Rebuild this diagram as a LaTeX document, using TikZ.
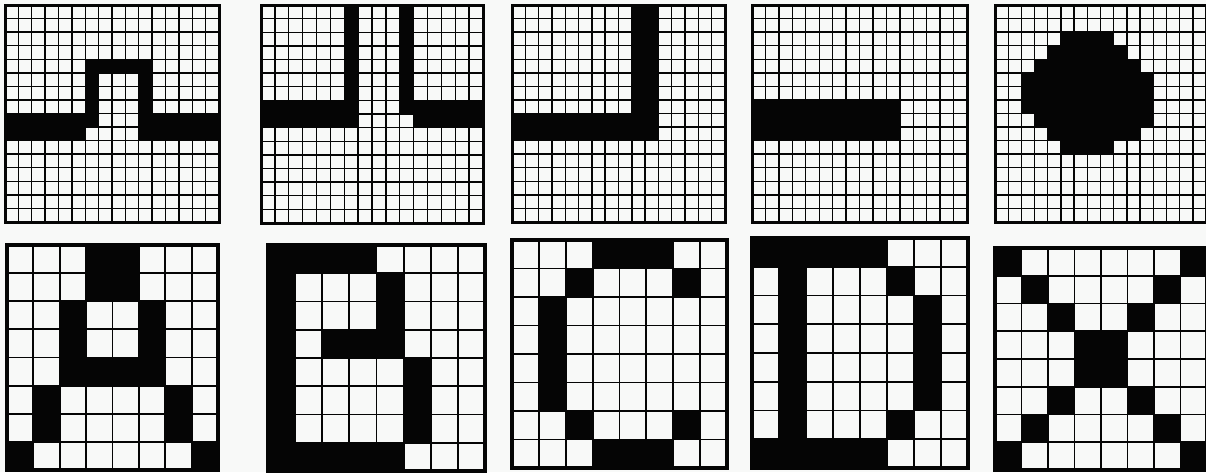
\documentclass[tikz,border=0pt]{standalone}
\definecolor{paper}{HTML}{F8F9F8}
\definecolor{ink}{HTML}{050505}
\tikzset{
  gridline/.style={draw=ink, line cap=rect},
  cellfill/.style={fill=ink},
  border/.style={draw=ink, line join=miter},
}
% #1 x0, #2 y0, #3 x1, #4 y1, #5 n, #6 black blocks r1/r2/c1/c2, #7 grid line width, #8 border width
\newcommand\pixgrid[8]{%
  \pgfmathsetmacro\gw{(#3-#1)/#5}%
  \pgfmathsetmacro\gh{(#4-#2)/#5}%
  \pgfmathtruncatemacro\gnm{#5-1}%
  \begin{scope}[shift={(#1,#2)}, x=\gw pt, y=-\gh pt]
    \foreach \kk in {1,...,\gnm} {
      \draw[gridline, line width=#7] (\kk,0) -- (\kk,#5);
      \draw[gridline, line width=#7] (0,\kk) -- (#5,\kk);
    }
    \foreach \ra/\rb/\ca/\cb in {#6} {
      \fill[cellfill] (\ca,\ra) rectangle (\cb+1,\rb+1);
    }
    \draw[border, line width=#8] (0,0) rectangle (#5,#5);
  \end{scope}}
\begin{document}
\begin{tikzpicture}[x=1pt, y=-1pt]
\useasboundingbox (0,0) rectangle (1206,472);
\fill[paper] (0,0) rectangle (1206,472);
% top row (16 x 16)
\pixgrid{5}{5}{219}{222}{16}{4/4/6/10, 5/7/6/6, 5/7/10/10, 8/8/0/6, 8/9/10/15, 9/9/0/5}{1.4}{3}
\pixgrid{261}{5}{483}{223}{16}{0/6/6/6, 0/6/10/10, 7/8/0/6, 7/7/10/15, 8/8/11/15}{1.4}{3}
\pixgrid{512}{5}{725}{222}{16}{0/9/9/10, 8/9/0/8}{1.4}{3}
\pixgrid{752}{5}{967}{222}{16}{7/9/0/10}{1.4}{3}
\pixgrid{995}{5}{1206}{222}{16}{2/2/5/8, 3/3/4/9, 4/4/3/10, 5/7/2/11, 8/8/3/11, 9/9/4/10, 10/10/5/8}{1.4}{3}
% bottom row (8 x 8)
\pixgrid{7}{245}{218}{470}{8}{0/1/3/4, 2/4/2/2, 2/4/5/5, 4/4/3/4, 5/6/1/1, 5/6/6/6, 7/7/0/0, 7/7/7/7}{1.8}{3.5}
\pixgrid{268}{245}{485}{471}{8}{0/0/0/3, 0/7/0/0, 1/3/4/4, 3/3/2/3, 4/6/5/5, 7/7/0/4}{1.8}{3.5}
\pixgrid{512}{240}{727}{468}{8}{0/0/3/5, 1/1/2/2, 1/1/6/6, 2/5/1/1, 6/6/2/2, 6/6/6/6, 7/7/3/5}{1.8}{3.5}
\pixgrid{752}{238}{968}{468}{8}{0/0/0/4, 7/7/0/4, 1/6/1/1, 1/1/5/5, 6/6/5/5, 2/5/6/6}{1.8}{3.5}
\pixgrid{995}{248}{1207}{470}{8}{0/0/0/0, 0/0/7/7, 1/1/1/1, 1/1/6/6, 2/2/2/2, 2/2/5/5, 3/4/3/4, 5/5/2/2, 5/5/5/5, 6/6/1/1, 6/6/6/6, 7/7/0/0, 7/7/7/7}{1.8}{3.5}
\end{tikzpicture}
\end{document}
